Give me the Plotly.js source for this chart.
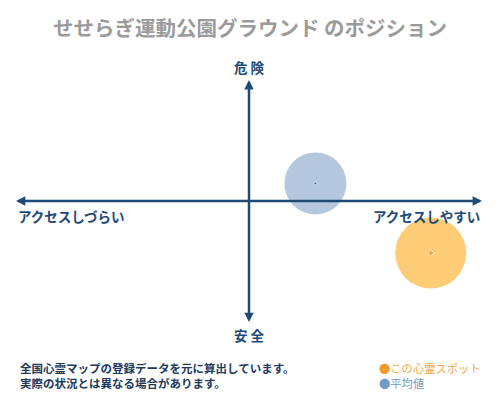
<!DOCTYPE html>
<html>
<head>
<meta charset="utf-8">
<script src="https://cdn.plot.ly/plotly-3.0.1.min.js"></script>
<style>body{margin:0;background:#fff}</style>
</head>
<body>
<div id="chart" style="width:500px;height:400px"></div>
<script>
// position values, -100..100 on each axis (x: access, y: danger)
const pointNames = ['この心霊スポット', '平均値'];
const accessVals = [78, 28.5];
const dangerVals = [-43, 14.5];
const bubbleSizes = [71, 62];

const navy = '#1e4a76';
const jp = '"Noto Sans CJK JP", sans-serif';

var spotTrace = {
  x: [accessVals[0]], y: [dangerVals[0]],
  mode: 'markers', name: pointNames[0],
  marker: {size: bubbleSizes[0], color: 'rgba(253,186,72,0.75)', line: {width: 0}},
  hoverinfo: 'skip'
};
var avgTrace = {
  x: [accessVals[1]], y: [dangerVals[1]],
  mode: 'markers', name: pointNames[1],
  marker: {size: bubbleSizes[1], color: 'rgba(130,162,200,0.6)', line: {width: 0}},
  hoverinfo: 'skip'
};
// little centre marks
var centreTrace = {
  x: accessVals, y: dangerVals,
  mode: 'markers',
  marker: {size: [5, 3], symbol: ['diamond', 'circle'], color: ['#f29a2e', '#1e3050']},
  hoverinfo: 'skip'
};

// axis lines (shapes) + small heads (annotations)
function axisLine(x0, y0, x1, y1) {
  return {type: 'line', xref: 'x', yref: 'y', x0: x0, y0: y0, x1: x1, y1: y1,
    line: {color: navy, width: 2.5}, layer: 'above'};
}
function arrowHead(x, y, ax, ay) {
  return {x: x, y: y, ax: ax, ay: ay, xref: 'x', yref: 'y', axref: 'x', ayref: 'y',
    text: '', showarrow: true, arrowhead: 2, arrowsize: 0.75, arrowwidth: 2.5, arrowcolor: navy};
}
function label(text, x, y, xanchor, size, color) {
  return {text: text, x: x, y: y, xref: 'paper', yref: 'paper', xanchor: xanchor, yanchor: 'middle',
    showarrow: false, font: {family: jp, size: size, color: color || navy, weight: 'bold'}};
}

var layout = {
  width: 500, height: 400,
  margin: {l: 16, r: 18, t: 80, b: 78},
  paper_bgcolor: '#fff', plot_bgcolor: '#fff',
  showlegend: false,
  title: {text: 'せせらぎ運動公園グラウンド のポジション', x: 0.5, y: 0.927, xanchor: 'center', yanchor: 'middle',
    font: {family: jp, size: 20.5, color: '#9a9a9a', weight: 'bold'}},
  xaxis: {range: [-100, 100], visible: false, fixedrange: true},
  yaxis: {range: [-100, 100], visible: false, fixedrange: true},
  shapes: [axisLine(-97, 0, 97, 0), axisLine(0, -96, 0, 96)],
  annotations: [
    arrowHead(100, 0, 96, 0), arrowHead(-100, 0, -96, 0),
    arrowHead(0, 100, 0, 93), arrowHead(0, -100, 0, -93),
    {text: '危 険', x: 0.5, y: 1.055, xref: 'paper', yref: 'paper', xanchor: 'center', yanchor: 'middle',
      showarrow: false, font: {family: jp, size: 13.5, color: navy, weight: 'bold'}},
    {text: '安 全', x: 0.5, y: -0.055, xref: 'paper', yref: 'paper', xanchor: 'center', yanchor: 'middle',
      showarrow: false, font: {family: jp, size: 13.5, color: navy, weight: 'bold'}},
    label('アクセスしづらい', 0.0, 0.44, 'left', 13.5),
    label('アクセスしやすい', 1.0, 0.44, 'right', 13.5),
    {text: '全国心霊マップの登録データを元に算出しています。<br>実際の状況とは異なる場合があります。',
      x: 2 / 466, y: -0.15, xref: 'paper', yref: 'paper', xanchor: 'left', yanchor: 'top', align: 'left',
      showarrow: false, font: {family: jp, size: 11.5, color: '#1e3a5a', weight: 'bold'}},
    {text: '<span style="color:#f29a2e">●</span>' + pointNames[0] + '<br><span style="color:#6f9cc4">●</span><span style="color:#6f9cc4">' + pointNames[1] + '</span>',
      x: 361 / 466, y: -0.15, xref: 'paper', yref: 'paper', xanchor: 'left', yanchor: 'top', align: 'left',
      showarrow: false, font: {family: jp, size: 11.3, color: '#f0a54a'}}
  ]
};

Plotly.newPlot('chart', [avgTrace, spotTrace, centreTrace], layout, {displayModeBar: false, staticPlot: true});
</script>
</body>
</html>
